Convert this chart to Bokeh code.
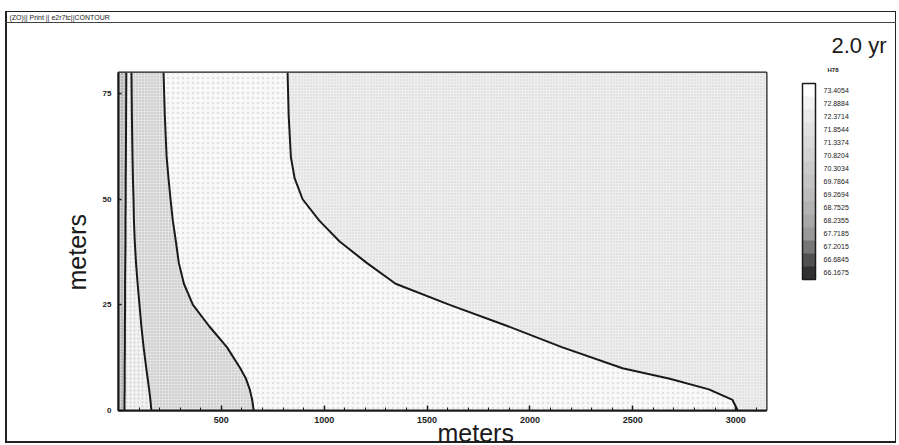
from bokeh.plotting import figure
from bokeh.models import (ColumnDataSource, ColorBar, LinearColorMapper, Title,
                          FixedTicker, PrintfTickFormatter, Range1d, AllLabels)
from bokeh.embed import file_html
from bokeh.resources import INLINE

# ---------------- data ----------------
depth_m = [0, 2.5, 5, 7.5, 10, 15, 20, 25, 30, 35, 40, 45, 50, 55, 60, 70, 80]
contour_a = [29, 29, 30, 30, 30, 31, 31, 32, 32, 33, 34, 34, 35, 35, 36, 37, 38]
contour_b = [160, 155, 149, 142, 135, 122, 111, 102, 93, 85, 79, 75, 73, 70, 68, 65, 63]
contour_c = [657, 650, 638, 620, 592, 527, 440, 362, 318, 293, 279, 264, 253, 243, 234, 225, 219]
contour_d = [3010, 2985, 2870, 2680, 2450, 2155, 1890, 1610, 1347, 1205, 1075, 975, 895, 856, 838, 827, 822]

legend_title = "H78"
legend_values = [73.4054, 72.8884, 72.3714, 71.8544, 71.3374, 70.8204, 70.3034,
                 69.7864, 69.2694, 68.7525, 68.2355, 67.7185, 67.2015, 66.6845, 66.1675]
legend_shades_top_down = ["#ffffff", "#f3f3f3", "#e9e9e9", "#e1e1e1", "#dadada", "#d3d3d3",
                          "#cbcbcb", "#c4c4c4", "#bcbcbc", "#b3b3b3", "#a8a8a8", "#999999",
                          "#767676", "#505050", "#303030"]

x_ticks = [500, 1000, 1500, 2000, 2500, 3000]
x_minor_ticks = [100, 200, 300, 400, 600, 700, 800, 900, 1100, 1200, 1300, 1400,
                 1600, 1700, 1800, 1900, 2100, 2200, 2300, 2400, 2600, 2700, 2800,
                 2900, 3100]
y_ticks = [0, 25, 50, 75]

time_label = "2.0 yr"
window_text = "(ZO)|| Print || e2r7tc||CONTOUR"
x_label = "meters"
y_label = "meters"

X0, X1 = 0, 3150
Y0, Y1 = 0, 80

# ---------------- layout constants ----------------
W, H = 899, 445
FL, FR, FT, FB = 118, 766, 72, 410   # frame edges in canvas pixels

line_col = "#1a1a1a"
font = "Liberation Sans"
border_css = (
    "linear-gradient(#222,#222) 6px 11px / 890px 1px no-repeat, "
    "linear-gradient(#444,#444) 6px 22px / 890px 1px no-repeat, "
    "linear-gradient(#222,#222) 6px 441px / 890px 2px no-repeat, "
    "linear-gradient(#222,#222) 5px 11px / 2px 432px no-repeat, "
    "linear-gradient(#222,#222) 895px 11px / 1px 432px no-repeat, #ffffff"
)

p = figure(width=W, height=H, x_range=Range1d(X0, X1), y_range=Range1d(Y0, Y1),
           output_backend="svg", toolbar_location=None,
           min_border_left=FL, min_border_right=W - FR,
           min_border_top=FT, min_border_bottom=H - FB)
p.border_fill_color = None
p.background_fill_color = "white"
p.styles = {"background": border_css}
p.outline_line_color = line_col
p.outline_line_width = 2
p.grid.visible = False

src = ColumnDataSource(dict(y=depth_m, a=contour_a, b=contour_b, c=contour_c, d=contour_d))

# shaded bands between contours (stipple-like)
p.harea(y="y", x1=X0, x2="a", source=src, fill_color="#d0d0d0",
        hatch_pattern="dot", hatch_scale=3, hatch_color="#444444", hatch_alpha=0.5)
p.harea(y="y", x1="a", x2="b", source=src, fill_color="#f2f2f2",
        hatch_pattern="dot", hatch_scale=4, hatch_color="#888888", hatch_alpha=0.3)
p.harea(y="y", x1="b", x2="c", source=src, fill_color="#e3e3e3",
        hatch_pattern="dot", hatch_scale=3, hatch_color="#777777", hatch_alpha=0.45)
p.harea(y="y", x1="c", x2="d", source=src, fill_color="#f9f9f9",
        hatch_pattern="dot", hatch_scale=5, hatch_color="#aaaaaa", hatch_alpha=0.3)
p.harea(y="y", x1="d", x2=X1, source=src, fill_color="#eeeeee",
        hatch_pattern="dot", hatch_scale=3, hatch_color="#999999", hatch_alpha=0.35)

for col in ["a", "b", "c", "d"]:
    p.line(x=col, y="y", source=src, line_color=line_col, line_width=2)

# axes
p.xaxis.ticker = FixedTicker(ticks=x_ticks, minor_ticks=x_minor_ticks)
p.yaxis.ticker = FixedTicker(ticks=y_ticks)
for ax in (p.xaxis[0], p.yaxis[0]):
    ax.axis_line_color = line_col
    ax.axis_line_width = 2
    ax.major_tick_line_color = line_col
    ax.major_tick_line_width = 1.5
    ax.major_tick_in = 5
    ax.major_tick_out = 0
    ax.minor_tick_in = 3
    ax.minor_tick_out = 0
    ax.minor_tick_line_color = line_col
    ax.major_label_text_font = font
    ax.major_label_text_font_style = "bold"
    ax.major_label_text_color = "#222222"
p.xaxis.major_label_text_font_size = "9px"
p.xaxis.major_label_standoff = 6
p.yaxis.major_label_text_font_size = "8px"
p.yaxis.major_label_standoff = 7
p.yaxis.minor_tick_line_color = None
p.yaxis.major_tick_in = 3

# colour legend
step = legend_values[0] - legend_values[1]
mapper = LinearColorMapper(palette=list(reversed(legend_shades_top_down)),
                           low=min(legend_values) - step / 2,
                           high=max(legend_values) + step / 2)
cb = ColorBar(color_mapper=mapper, ticker=FixedTicker(ticks=legend_values),
              formatter=PrintfTickFormatter(format="%.4f"),
              major_label_policy=AllLabels(),
              width=13, height=196, location=(36, 131), padding=0, margin=0,
              bar_line_color=line_col, bar_line_width=1.5,
              major_tick_line_color=None, minor_tick_line_color=None,
              label_standoff=8, major_label_text_font_size="7px",
              major_label_text_font=font,
              major_label_text_color="#222222",
              background_fill_color=None, border_line_color=None)
p.add_layout(cb, "right")

# texts placed in the side panels (first added = nearest the frame)
p.add_layout(Title(text=legend_title, align="right", offset=-72, text_font=font,
                   text_font_size="6px", text_font_style="bold",
                   text_color="#222222", standoff=0), "above")
p.add_layout(Title(text=time_label, align="right", offset=-120, text_font=font,
                   text_font_size="22px", text_font_style="normal",
                   text_color="#1a1a1a", standoff=14), "above")
p.title.text = window_text
p.title.align = "left"
p.title.offset = -109
p.title.text_font = font
p.title.text_font_size = "7px"
p.title.text_font_style = "normal"
p.title.text_color = "#222222"
p.title.standoff = 6

p.add_layout(Title(text=x_label, align="left", offset=319, text_font=font,
                   text_font_size="25px", text_font_style="normal",
                   text_color="#1a1a1a", standoff=-18), "below")

p.add_layout(Title(text=y_label, align="left", offset=120, text_font=font,
                   text_font_size="25px", text_font_style="normal",
                   text_color="#1a1a1a", standoff=18), "left")

open("out.html", "w").write(file_html(p, INLINE))
